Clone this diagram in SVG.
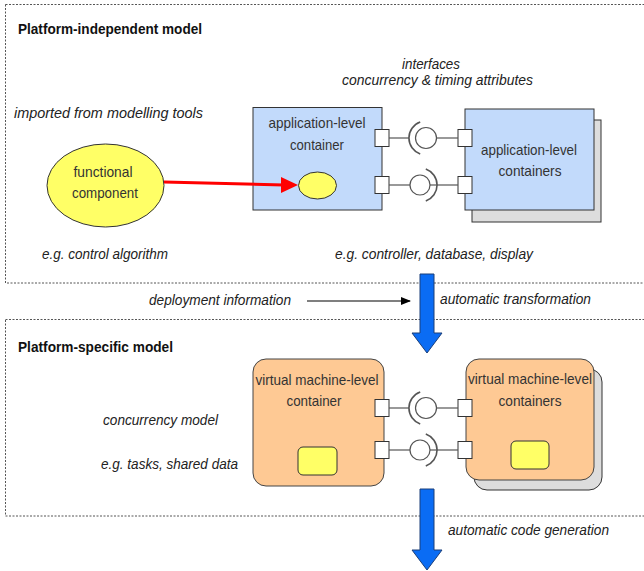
<svg xmlns="http://www.w3.org/2000/svg" width="644" height="571" viewBox="0 0 644 571">
  <style>
    text { font-family: "Liberation Sans", Arial, sans-serif; }
    .title { font-size: 15px; font-weight: bold; fill: #111; }
    .note { font-size: 14.5px; font-style: italic; fill: #222; }
    .lbl { font-size: 15px; fill: #333; text-anchor: middle; }
    .frame { fill: none; stroke: #555; stroke-width: 1; stroke-dasharray: 2 1.5; }
    .app { fill: #C2DAFB; stroke: #333; stroke-width: 1; }
    .vm { fill: #FEC994; stroke: #444; stroke-width: 1; }
    .shadow { fill: #DDDDDD; stroke: #333; stroke-width: 1; }
    .part { fill: #FFFF66; stroke: #333; stroke-width: 1; }
    .port { fill: #FFFFFF; stroke: #333; stroke-width: 1; }
    .wire { stroke: #555; stroke-width: 1.2; fill: none; }
    .ball { fill: #FFFFFF; stroke: #555; stroke-width: 1.2; }
    .socket { fill: none; stroke: #555; stroke-width: 1.6; }
    .flow { fill: #0A6CF4; stroke: #1B3E78; stroke-width: 1; }
  </style>
  <defs>
    <marker id="blackHead" markerWidth="10" markerHeight="8" refX="9" refY="4" orient="auto" markerUnits="userSpaceOnUse">
      <polygon points="0,0 10,4 0,8" fill="#000"/>
    </marker>
  </defs>

  <rect width="644" height="571" fill="#FFFFFF"/>

  <!-- model frames -->
  <g id="frame-pim">
    <rect class="frame" x="5.5" y="4.5" width="650" height="278.5"/>
    <text class="title" x="18" y="34" textLength="184" lengthAdjust="spacingAndGlyphs">Platform-independent model</text>
  </g>
  <g id="frame-psm">
    <rect class="frame" x="5.5" y="319.5" width="650" height="196.5"/>
    <text class="title" x="18" y="352" textLength="155" lengthAdjust="spacingAndGlyphs">Platform-specific model</text>
  </g>

  <!-- annotations -->
  <g id="notes">
    <text class="note" x="431" y="69" text-anchor="middle" textLength="58" lengthAdjust="spacingAndGlyphs">interfaces</text>
    <text class="note" x="437.5" y="85" text-anchor="middle" textLength="191" lengthAdjust="spacingAndGlyphs">concurrency &amp; timing attributes</text>
    <text class="note" x="14" y="118" textLength="189" lengthAdjust="spacingAndGlyphs">imported from modelling tools</text>
    <text class="note" x="42" y="259" textLength="126" lengthAdjust="spacingAndGlyphs">e.g. control algorithm</text>
    <text class="note" x="335" y="259" textLength="198" lengthAdjust="spacingAndGlyphs">e.g. controller, database, display</text>
    <text class="note" x="149" y="305" textLength="142" lengthAdjust="spacingAndGlyphs">deployment information</text>
    <text class="note" x="440" y="304" textLength="151" lengthAdjust="spacingAndGlyphs">automatic transformation</text>
    <text class="note" x="103" y="425" textLength="115" lengthAdjust="spacingAndGlyphs">concurrency model</text>
    <text class="note" x="101" y="469" textLength="137" lengthAdjust="spacingAndGlyphs">e.g. tasks, shared data</text>
    <text class="note" x="448" y="535" textLength="161" lengthAdjust="spacingAndGlyphs">automatic code generation</text>
  </g>

  <!-- platform-independent nodes -->
  <g id="functional-component">
    <ellipse class="part" cx="105.5" cy="185.5" rx="58.5" ry="41.5"/>
    <text class="lbl" x="103" y="177" textLength="59" lengthAdjust="spacingAndGlyphs">functional</text>
    <text class="lbl" x="105" y="198" textLength="66" lengthAdjust="spacingAndGlyphs">component</text>
  </g>

  <g id="app-container">
    <rect class="app" x="253" y="107.5" width="129" height="102.5"/>
    <text class="lbl" x="317" y="128" textLength="97" lengthAdjust="spacingAndGlyphs">application-level</text>
    <text class="lbl" x="317" y="150" textLength="54" lengthAdjust="spacingAndGlyphs">container</text>
    <ellipse class="part" cx="317.5" cy="185.5" rx="19" ry="13.5"/>
    <rect class="port" x="375" y="129.5" width="14" height="17"/>
    <rect class="port" x="375" y="176.5" width="14" height="17"/>
  </g>

  <g id="app-containers">
    <rect class="shadow" x="472" y="120" width="129" height="102"/>
    <rect class="app" x="465" y="109" width="129" height="101"/>
    <text class="lbl" x="529" y="155" textLength="96" lengthAdjust="spacingAndGlyphs">application-level</text>
    <text class="lbl" x="530" y="176" textLength="63" lengthAdjust="spacingAndGlyphs">containers</text>
    <rect class="port" x="458" y="129.5" width="14" height="17"/>
    <rect class="port" x="458" y="176.5" width="14" height="17"/>
  </g>

  <!-- platform-specific nodes -->
  <g id="vm-container">
    <rect class="vm" x="253" y="359" width="131" height="127" rx="13"/>
    <text class="lbl" x="317" y="385" textLength="123" lengthAdjust="spacingAndGlyphs">virtual machine-level</text>
    <text class="lbl" x="314" y="406" textLength="55" lengthAdjust="spacingAndGlyphs">container</text>
    <rect class="part" x="298" y="447" width="39" height="28" rx="5"/>
    <rect class="port" x="375" y="399.5" width="14" height="17"/>
    <rect class="port" x="375" y="441.5" width="14" height="17"/>
  </g>

  <g id="vm-containers">
    <rect class="shadow" x="474" y="369" width="128" height="121" rx="13"/>
    <rect class="vm" x="466" y="359" width="128" height="121" rx="13"/>
    <text class="lbl" x="530" y="384" textLength="124" lengthAdjust="spacingAndGlyphs">virtual machine-level</text>
    <text class="lbl" x="530" y="406" textLength="63" lengthAdjust="spacingAndGlyphs">containers</text>
    <rect class="part" x="511" y="441" width="38" height="28" rx="5"/>
    <rect class="port" x="458" y="399.5" width="14" height="17"/>
    <rect class="port" x="458" y="441.5" width="14" height="17"/>
  </g>

  <!-- connectors -->
  <g id="connectors">
    <!-- functional component placed into the application container -->
    <line x1="164" y1="182" x2="284" y2="185" stroke="#FF0000" stroke-width="3"/>
    <polygon points="281,177 298,185 281,193" fill="#FF0000"/>

    <!-- provided/required interfaces, application level -->
    <line class="wire" x1="389" y1="138" x2="409" y2="138"/>
    <line class="wire" x1="437" y1="138" x2="458" y2="138"/>
    <path class="socket" d="M420.2,154 A17,17 0 0 1 420.2,122"/>
    <circle class="ball" cx="426" cy="138" r="10.5"/>

    <line class="wire" x1="389" y1="185" x2="410" y2="185"/>
    <line class="wire" x1="430" y1="185" x2="458" y2="185"/>
    <circle class="ball" cx="420" cy="185" r="10"/>
    <path class="socket" d="M425.8,169 A17,17 0 0 1 425.8,201"/>

    <!-- provided/required interfaces, virtual machine level -->
    <line class="wire" x1="389" y1="408" x2="409" y2="408"/>
    <line class="wire" x1="437" y1="408" x2="458" y2="408"/>
    <path class="socket" d="M420.2,424 A17,17 0 0 1 420.2,392"/>
    <circle class="ball" cx="426" cy="408" r="10.5"/>

    <line class="wire" x1="389" y1="450" x2="410" y2="450"/>
    <line class="wire" x1="430" y1="450" x2="458" y2="450"/>
    <circle class="ball" cx="420" cy="450" r="10"/>
    <path class="socket" d="M425.8,434 A17,17 0 0 1 425.8,466"/>

    <!-- deployment information input -->
    <line x1="307" y1="301" x2="410" y2="301" stroke="#000" stroke-width="1.2" marker-end="url(#blackHead)"/>

    <!-- transformation steps -->
    <polygon class="flow" points="420,274 434,274 434,333 442,333 427,353 412,333 420,333"/>
    <polygon class="flow" points="420,489 434,489 434,550 442,550 427,570 412,550 420,550"/>
  </g>
</svg>
